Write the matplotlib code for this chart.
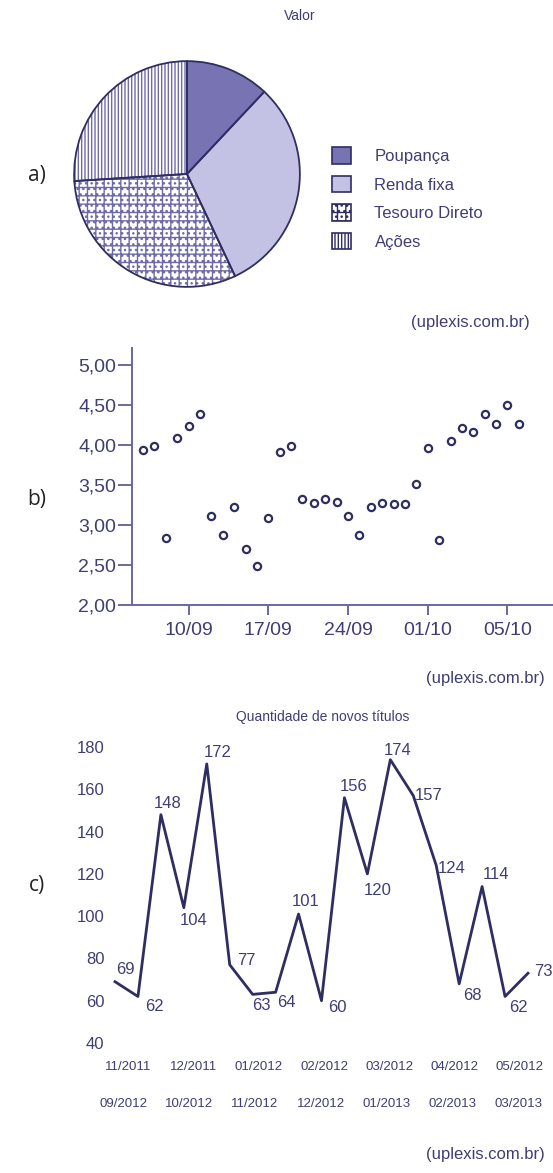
import matplotlib
matplotlib.use("Agg")
import matplotlib.pyplot as plt
import matplotlib.transforms as mtrans
from matplotlib.patches import Patch
import numpy as np

# ---------------- data ----------------
pie_labels = ["Poupança", "Renda fixa", "Tesouro Direto", "Ações"]
pie_values = [12, 31, 31, 26]

scatter_values = [3.94, 3.99, 2.84, 4.08, 4.23, 4.38, 3.11, 2.87, 3.23, 2.70,
                  2.49, 3.09, 3.91, 3.99, 3.33, 3.28, 3.33, 3.29, 3.11, 2.87,
                  3.22, 3.28, 3.26, 3.26, 3.51, 3.96, 2.81, 4.05, 4.21, 4.16,
                  4.39, 4.26, 4.50, 4.26]
scatter_tick_idx = [4, 11, 18, 25, 32]
scatter_tick_labels = ["10/09", "17/09", "24/09", "01/10", "05/10"]
scatter_yticks = [2.0, 2.5, 3.0, 3.5, 4.0, 4.5, 5.0]

line_values = [69, 62, 148, 104, 172, 77, 63, 64, 101, 60, 156, 120, 174,
               157, 124, 68, 114, 62, 73]
line_yticks = [40, 60, 80, 100, 120, 140, 160, 180]
line_xlabels_row1 = ["11/2011", "12/2011", "01/2012", "02/2012", "03/2012",
                     "04/2012", "05/2012"]
line_xlabels_row2 = ["09/2012", "10/2012", "11/2012", "12/2012", "01/2013",
                     "02/2013", "03/2013"]

# ---------------- style ----------------
W, H = 553, 1173
NAVY = "#2f2e62"
TXT = "#3f3e74"
SPINE = "#6a699c"
PURPLE = "#7874b4"
LAV = "#c4c2e4"
HATCHC = "#6e6ca8"
plt.rcParams["font.family"] = ["Liberation Sans", "DejaVu Sans"]
plt.rcParams["hatch.linewidth"] = 1.0

fig = plt.figure(figsize=(W / 100, H / 100), dpi=100)
fig.patch.set_facecolor("white")


def fbox(l, t, r, b):
    return [l / W, 1 - b / H, (r - l) / W, (b - t) / H]


def ftext(x, y, s, **kw):
    fig.text(x / W, 1 - y / H, s, **kw)


# ---------------- a) pie ----------------
axp = fig.add_axes(fbox(73, 60, 301, 288))
fills = [PURPLE, LAV, "white", "white"]
hatches = [None, None, "++...", "|||||"]
wedges, _ = axp.pie(pie_values, startangle=90, counterclock=False,
                    colors=fills, wedgeprops=dict(linewidth=0))
for w, h in zip(wedges, hatches):
    if h:
        w.set_hatch(h)
        w.set_edgecolor(HATCHC)
        w.set_linewidth(0)
axp.pie(pie_values, startangle=90, counterclock=False,
        wedgeprops=dict(fill=False, edgecolor=NAVY, linewidth=1.3))
axp.set_xlim(-1.01, 1.01)
axp.set_ylim(-1.01, 1.01)
axp.set_aspect("equal")
axp.axis("off")

handles = [Patch(facecolor=f, edgecolor=NAVY, hatch=h, linewidth=1.2)
           for f, h in zip(fills, hatches)]
leg = fig.legend(handles, pie_labels, loc="upper left",
                 bbox_to_anchor=(332 / W, 1 - 147 / H),
                 bbox_transform=fig.transFigure, frameon=False,
                 fontsize=12, handlelength=1.15, handleheight=1.15,
                 handletextpad=1.4, labelspacing=0.7, borderpad=0,
                 borderaxespad=0)
for t in leg.get_texts():
    t.set_color(TXT)

ftext(300, 16, "Valor", fontsize=10, color=TXT, ha="center", va="center")
ftext(470, 322, "(uplexis.com.br)", fontsize=12, color=TXT, ha="center",
      va="center")
ftext(37, 175, "a)", fontsize=15, color="#222222", ha="center", va="center",
      family=["Open Sans", "DejaVu Sans"])

# ---------------- b) scatter ----------------
axs = fig.add_axes(fbox(132, 348, 553, 605))
xs = np.arange(len(scatter_values))
axs.plot(xs, scatter_values, linestyle="none", marker="o", ms=5.2,
         mfc="white", mec=NAVY, mew=1.6)
axs.set_xlim(-0.966, 36.0)
axs.set_ylim(2.0, 5.21)
for s in ["top", "right"]:
    axs.spines[s].set_visible(False)
for s in ["left", "bottom"]:
    axs.spines[s].set_color(SPINE)
    axs.spines[s].set_linewidth(1.4)
axs.set_yticks(scatter_yticks)
axs.set_yticklabels([f"{v:.2f}".replace(".", ",") for v in scatter_yticks])
axs.set_xticks(scatter_tick_idx)
axs.set_xticklabels(scatter_tick_labels)
axs.tick_params(axis="both", colors=SPINE, labelcolor=TXT, labelsize=14,
                width=1.4)
axs.tick_params(axis="y", pad=1.5, length=10)
axs.tick_params(axis="x", pad=5, length=7)

ftext(485, 678, "(uplexis.com.br)", fontsize=12, color=TXT, ha="center",
      va="center")
ftext(37, 500, "b)", fontsize=15, color="#222222", ha="center", va="center",
      family=["Open Sans", "DejaVu Sans"])

# ---------------- c) line ----------------
axl = fig.add_axes(fbox(110, 747, 553, 1043))
xl = np.arange(len(line_values))
axl.plot(xl, line_values, color=NAVY, linewidth=2.0)
axl.set_xlim(-0.218, 19.09)
axl.set_ylim(40, 180)
for s in axl.spines.values():
    s.set_visible(False)
axl.set_xticks([])
axl.set_yticks(line_yticks)
axl.tick_params(axis="y", length=0, pad=4, labelsize=12, labelcolor=TXT)

# label offsets (pixels) for each point's value label
label_offsets = [(10, -12), (16, 10), (7, -11), (10, 13), (11, -11),
                 (17, -4), (9, 11), (11, 10), (7, -13), (16, 7),
                 (9, -11), (10, 17), (7, -9), (15, 0), (15, 3),
                 (13, 12), (14, -12), (13, 11), (15, -2)]
for x, v, (dx, dy) in zip(xl, line_values, label_offsets):
    axl.annotate(str(v), (x, v), xytext=(dx * 0.72, -dy * 0.72),
                 textcoords="offset points", ha="center", va="center",
                 fontsize=12, color=TXT, annotation_clip=False)

ftext(323, 717, "Quantidade de novos títulos", fontsize=10, color=TXT,
      ha="center", va="center")

row_pos1 = np.linspace(0.57, 17.65, len(line_xlabels_row1))
row_pos2 = np.linspace(0.35, 17.57, len(line_xlabels_row2))
blend = mtrans.blended_transform_factory(axl.transData, fig.transFigure)
for p, s in zip(row_pos1, line_xlabels_row1):
    axl.text(p, 1 - 1067 / H, s, transform=blend, ha="center", va="center",
             fontsize=9.5, color=TXT)
for p, s in zip(row_pos2, line_xlabels_row2):
    axl.text(p, 1 - 1104 / H, s, transform=blend, ha="center", va="center",
             fontsize=9.5, color=TXT)

ftext(485, 1155, "(uplexis.com.br)", fontsize=12, color=TXT, ha="center",
      va="center")
ftext(37, 885, "c)", fontsize=15, color="#222222", ha="center", va="center",
      family=["Open Sans", "DejaVu Sans"])

fig.savefig("out.png", dpi=100, facecolor="white")
